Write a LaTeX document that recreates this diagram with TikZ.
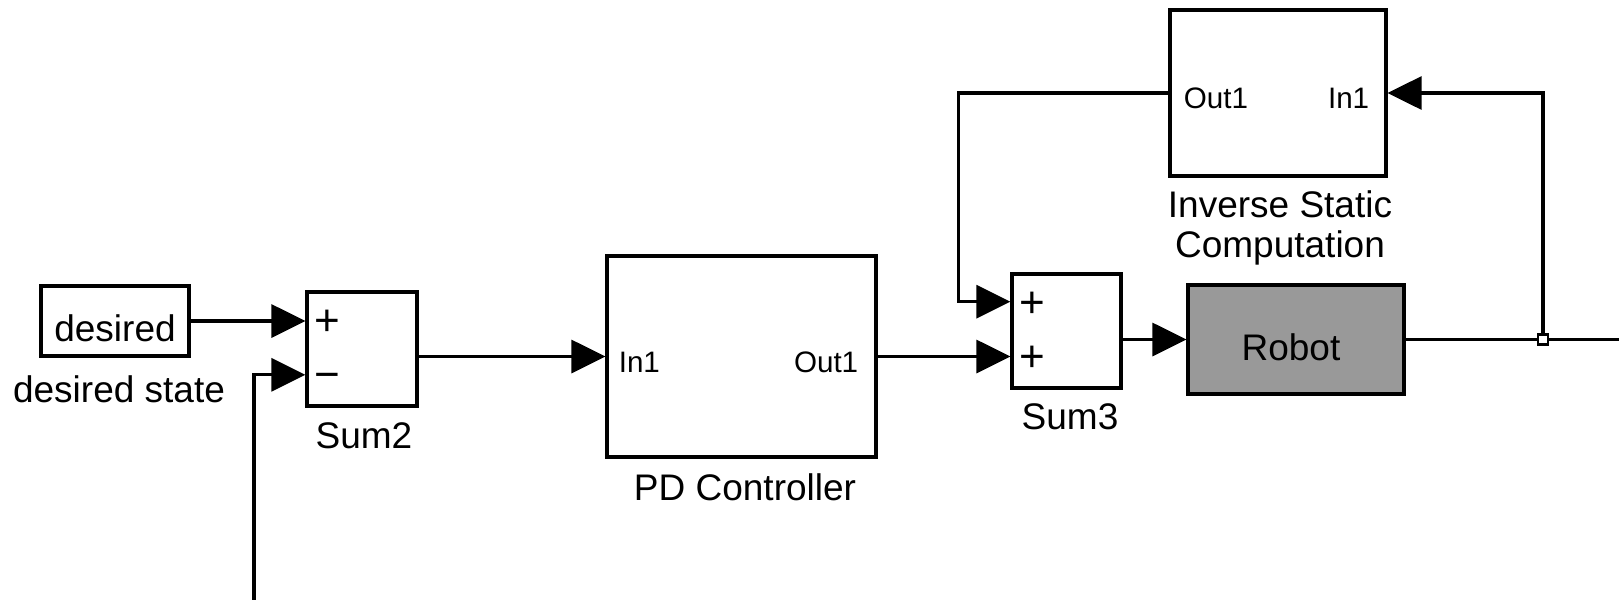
\documentclass[tikz,border=0pt]{standalone}
\usepackage{fontspec}
\setmainfont{Liberation Sans}
\usetikzlibrary{positioning, arrows.meta, calc}
\definecolor{robotgray}{HTML}{999999}

\begin{document}
\begin{tikzpicture}[
    x=0.5pt, y=-0.5pt,
    block/.style={rectangle, draw=black, line width=1.6pt, fill=white, inner sep=0pt},
    lbl/.style={font=\fontsize{18.5}{20}\selectfont, inner sep=0pt, align=center},
    port/.style={font=\fontsize{14.8}{17}\selectfont, inner sep=0pt},
    sign/.style={font=\fontsize{22}{24}\selectfont, inner sep=0pt},
    sig/.style={-{Triangle[length=17pt, width=16.5pt]}, line width=1.6pt},
    wire/.style={line width=1.6pt},
    junction/.style={rectangle, draw=black, fill=white, line width=1.2pt, minimum size=5pt, inner sep=0pt}
]
    \useasboundingbox (0,0) rectangle (1619,600);
    % Blocks
    \node[block, minimum width=74pt, minimum height=35pt] (desired) at (115,321) {};
    \node[block, minimum width=55pt, minimum height=57pt] (sum2) at (362,349) {};
    \node[block, minimum width=134.5pt, minimum height=100.5pt] (pd) at (741.5,356.5) {};
    \node[block, minimum width=54.5pt, minimum height=57pt] (sum3) at (1066.5,331) {};
    \node[block, fill=robotgray, minimum width=108pt, minimum height=54.5pt] (robot) at (1296,339.5) {};
    \node[block, minimum width=108pt, minimum height=83pt] (inv) at (1278,93) {};
    \node[lbl] (destxt) at ($(desired)+(0,7)$) {desired};
    \node[lbl] (robottxt) at ($(robot)+(-5,7.5)$) {Robot};
    % Ports and signs
    \coordinate (s2a) at ($(sum2.north west)!0.25!(sum2.south west)$);
    \coordinate (s2b) at ($(sum2.north west)!0.72!(sum2.south west)$);
    \coordinate (s3a) at ($(sum3.north west)!0.25!(sum3.south west)$);
    \node[sign] (s2plus) at ($(s2a)+(21.5,3)$) {+};
    \node[sign] (s2minus) at ($(s2b)+(21.5,7)$) {−};
    \node[sign] (s3plusa) at ($(s3a)+(21.5,3)$) {+};
    \node[sign] (s3plusb) at ($(sum3.west |- pd.east)+(21.5,2)$) {+};
    \node[port, anchor=west] (pdin) at ($(pd.west)+(13,6)$) {In1};
    \node[port, anchor=east] (pdout) at ($(pd.east)+(-19,6)$) {Out1};
    \node[port, anchor=west] (invout) at ($(inv.west)+(15,5)$) {Out1};
    \node[port, anchor=east] (invin) at ($(inv.east)+(-18,5)$) {In1};
    % Labels
    \node[lbl] (deslbl) at (119,389) {desired state};
    \node[lbl] (sum2lbl) at (364,436) {Sum2};
    \node[lbl] (pdlbl) at (745,487) {PD Controller};
    \node[lbl] (sum3lbl) at (1070,417) {Sum3};
    \node[lbl] (invlbl) at (1280,228) {Inverse Static\\Computation};
    % Signals
    \coordinate (fb) at (254,600);
    \coordinate (yout) at (1619,339.5);
    \draw[sig] (desired.east) -- (desired.east -| sum2.west);
    \draw[sig] (fb) |- (s2b);
    \draw[sig] (sum2.east |- pd.west) -- (pd.west);
    \draw[sig] (pd.east) -- (pd.east -| sum3.west);
    \draw[sig] (sum3.east |- robot.west) -- (robot.west);
    \node[junction] (tap) at (1543,339.5) {};
    \draw[wire] (robot.east) -- (tap.center) -- (yout);
    \draw[sig] (tap.center) |- (inv.east);
    \draw[sig] (inv.west) -- ++(-210,0) |- (s3a);
    \node[junction] at (tap) {};
\end{tikzpicture}
\end{document}
